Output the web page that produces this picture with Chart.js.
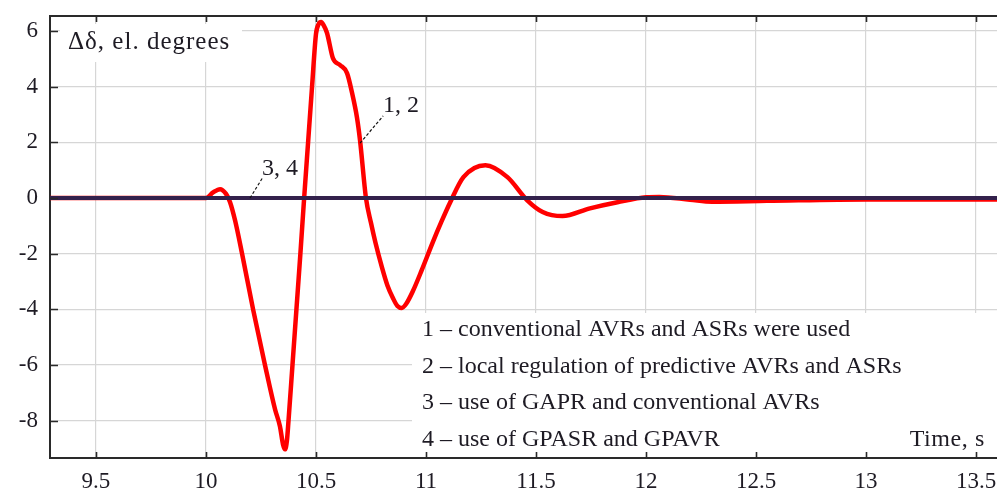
<!DOCTYPE html>
<html><head><meta charset="utf-8">
<script src="https://cdn.jsdelivr.net/npm/chart.js@4"></script>
<style>html,body{margin:0;padding:0;background:#fff}canvas{display:block}</style>
</head><body>
<canvas id="c" width="997" height="497"></canvas>
<script>
// ---- data ----
const time12 = [9.29, 9.9, 10.0, 10.032, 10.064, 10.091, 10.109, 10.132, 10.164, 10.214, 10.268, 10.314, 10.336, 10.35, 10.359, 10.368, 10.375, 10.393, 10.411, 10.429, 10.446, 10.464, 10.482, 10.5, 10.512, 10.523, 10.535, 10.55, 10.577, 10.609, 10.641, 10.664, 10.686, 10.7, 10.727, 10.75, 10.77, 10.8, 10.825, 10.85, 10.87, 10.89, 10.91, 10.94, 10.98, 11.03, 11.07, 11.11, 11.17, 11.27, 11.37, 11.46, 11.53, 11.62, 11.745, 11.87, 12.0, 12.06, 12.2, 12.3, 12.55, 13.0, 13.6];
const delta12 = [0, 0, 0, 0.2, 0.32, 0.15, -0.14, -0.8, -2.0, -4.0, -6.0, -7.6, -8.2, -8.85, -9.03, -8.7, -8.0, -6.0, -4.0, -2.0, 0, 2.0, 4.0, 5.9, 6.25, 6.32, 6.2, 5.93, 5.02, 4.78, 4.49, 3.77, 2.9, 2.08, 0, -0.9, -1.6, -2.5, -3.15, -3.6, -3.88, -3.95, -3.8, -3.35, -2.6, -1.6, -0.85, -0.15, 0.75, 1.18, 0.75, -0.08, -0.5, -0.65, -0.37, -0.15, 0.03, 0.04, -0.06, -0.13, -0.1, -0.05, -0.05];
const time34 = [9.29, 13.6];
const delta34 = [0, 0];
const xTicks = [9.5, 10, 10.5, 11, 11.5, 12, 12.5, 13, 13.5];
const xTickLabels = ["9.5", "10", "10.5", "11", "11.5", "12", "12.5", "13", "13.5"];
const yTicks = [-8, -6, -4, -2, 0, 2, 4, 6];
const yTickLabels = ["-8", "-6", "-4", "-2", "0", "2", "4", "6"];
const yLabel = "Δδ, el. degrees";
const xLabel = "Time, s";
const legendLines = [
  "1 – conventional AVRs and ASRs were used",
  "2 – local regulation of predictive AVRs and ASRs",
  "3 – use of GAPR and conventional AVRs",
  "4 – use of GPASR and GPAVR"
];
const curveLabels = [
  {text: "1, 2", anchor: [10.7, 1.97], tip: [10.805, 2.95]},
  {text: "3, 4", anchor: [10.2, 0], tip: [10.255, 0.7]}
];

const FONT = "'Liberation Serif', 'Times New Roman', serif";
const TXT = '#1e1b24';

const pts = (xs, ys) => xs.map((t, i) => ({x: t, y: ys[i]}));
const noPad = s => { s.paddingTop = 0; s.paddingBottom = 0; s.paddingLeft = 0; s.paddingRight = 0; };

const overlay = {
  id: 'overlay',
  beforeDatasetsDraw(chart) {
    const {ctx, chartArea: a} = chart;
    ctx.save();
    ctx.fillStyle = '#fff';
    ctx.fillRect(a.left + 10, a.top + 8, 182, 38);
    ctx.fillRect(a.left + 362, a.top + 297, a.right - a.left - 362, a.bottom - a.top - 298);
    ctx.fillStyle = TXT;
    ctx.textBaseline = 'alphabetic';
    ctx.textAlign = 'left';
    ctx.font = "25px " + FONT;
    ctx.letterSpacing = '1px';
    ctx.fillText(yLabel, a.left + 18, a.top + 33);
    ctx.letterSpacing = '0px';
    ctx.font = "24px " + FONT;
    legendLines.forEach((s, i) => ctx.fillText(s, a.left + 372, a.top + 320 + i * 36.7));
    ctx.textAlign = 'right';
    ctx.letterSpacing = '0.6px';
    ctx.fillText(xLabel, a.right - 12, a.top + 430);
    ctx.restore();
  },
  afterDatasetsDraw(chart) {
    const {ctx, chartArea: a, scales: {x, y}} = chart;
    ctx.save();
    ctx.font = "24px " + FONT;
    ctx.fillStyle = TXT;
    ctx.textAlign = 'left';
    ctx.textBaseline = 'alphabetic';
    curveLabels.forEach(l => {
      const x0 = x.getPixelForValue(l.anchor[0]), y0 = y.getPixelForValue(l.anchor[1]);
      const x1 = x.getPixelForValue(l.tip[0]), y1 = y.getPixelForValue(l.tip[1]);
      ctx.strokeStyle = '#111';
      ctx.lineWidth = 1.2;
      ctx.setLineDash([3, 2]);
      ctx.beginPath(); ctx.moveTo(x0, y0); ctx.lineTo(x1, y1); ctx.stroke();
      ctx.fillText(l.text, x1, y1 - 4);
    });
    ctx.setLineDash([]);
    ctx.strokeStyle = '#2a2a2a';
    ctx.lineWidth = 2;
    ctx.beginPath(); ctx.moveTo(a.left, a.top); ctx.lineTo(a.right, a.top); ctx.stroke();
    ctx.lineWidth = 1.6;
    ctx.beginPath();
    xTicks.forEach(v => {
      const px = Math.round(x.getPixelForValue(v)) + 0.5;
      ctx.moveTo(px, a.bottom); ctx.lineTo(px, a.bottom - 6);
      ctx.moveTo(px, a.top); ctx.lineTo(px, a.top + 6);
    });
    yTicks.forEach(v => {
      const py = Math.round(y.getPixelForValue(v)) + 0.5;
      ctx.moveTo(a.left, py); ctx.lineTo(a.left + 8, py);
    });
    ctx.stroke();
    ctx.restore();
  }
};

new Chart(document.getElementById('c'), {
  type: 'line',
  data: {
    datasets: [
      {label: '4', data: pts(time34, delta34), borderColor: '#33214c', borderWidth: 4, pointRadius: 0, order: 0},
      {label: '3', data: pts(time34, delta34), borderColor: '#2a2a60', borderWidth: 4, pointRadius: 0, order: 1},
      {label: '1, 2', data: pts(time12, delta12), borderColor: '#ff0000', borderWidth: 4.5, pointRadius: 0, cubicInterpolationMode: 'monotone', order: 2}
    ]
  },
  options: {
    responsive: false,
    animation: false,
    devicePixelRatio: 1,
    layout: {autoPadding: false, padding: {top: 16, right: 0, left: 0, bottom: 0}},
    plugins: {legend: {display: false}, tooltip: {enabled: false}},
    scales: {
      x: {
        type: 'linear', min: 9.291, max: 13.595,
        afterBuildTicks: s => { s.ticks = xTicks.map(v => ({value: v})); },
        afterFit: s => { s.height = 39; noPad(s); },
        ticks: {font: {family: FONT, size: 23}, color: TXT, padding: 10, maxRotation: 0, autoSkip: false,
                callback: (v, i) => xTickLabels[i]},
        grid: {color: '#d6d6d6', lineWidth: 1.2, drawTicks: false},
        border: {color: '#2a2a2a', width: 2}
      },
      y: {
        type: 'linear', min: -9.34, max: 6.54,
        afterBuildTicks: s => { s.ticks = yTicks.map(v => ({value: v})); },
        afterFit: s => { s.width = 50; noPad(s); },
        ticks: {font: {family: FONT, size: 23}, color: TXT, padding: 12,
                callback: (v, i) => yTickLabels[i]},
        grid: {color: '#d6d6d6', lineWidth: 1.2, drawTicks: false},
        border: {color: '#2a2a2a', width: 2}
      }
    }
  },
  plugins: [overlay]
});
</script>
</body></html>
